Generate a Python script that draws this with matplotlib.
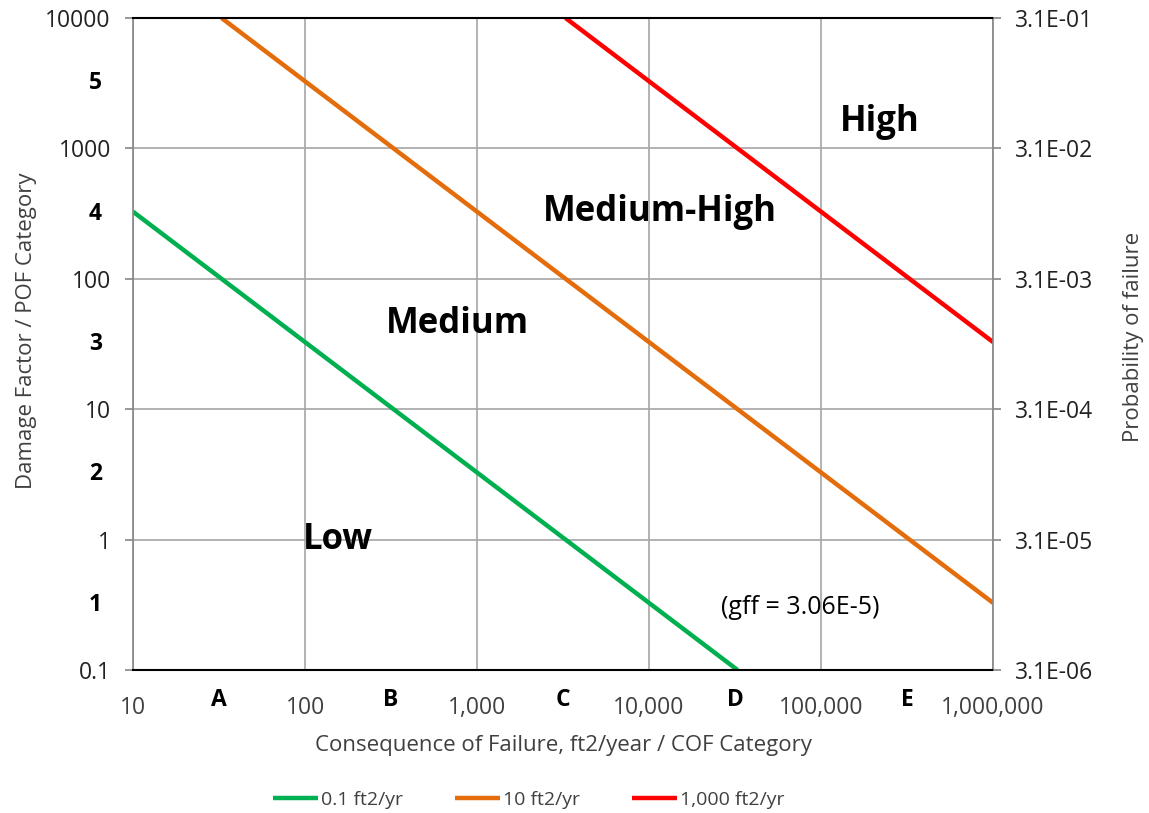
import matplotlib
matplotlib.use("Agg")
import matplotlib.pyplot as plt
from matplotlib.ticker import FixedLocator, FixedFormatter, NullLocator

plt.rcParams['font.family'] = ['Open Sans', 'DejaVu Sans']

# iso-risk lines (end points), gff = 3.06E-5
green_x = [10, 32680]
green_y = [326.8, 0.1]
orange_x = [32.68, 1000000]
orange_y = [10000, 0.3268]
red_x = [3268, 1000000]
red_y = [10000, 32.68]
series_labels = ['0.1 ft2/yr', '10 ft2/yr', '1,000 ft2/yr']

x_ticks = [10, 100, 1000, 10000, 100000, 1000000]
x_tick_labels = ['10', '100', '1,000', '10,000', '100,000', '1,000,000']
cof_pos = [31.6, 316, 3162, 31623, 316228]
cof_labels = ['A', 'B', 'C', 'D', 'E']

y_ticks = [0.1, 1, 10, 100, 1000, 10000]
y_tick_labels = ['0.1', '1', '10', '100', '1000', '10000']
pof_pos = [0.316, 3.16, 31.6, 316, 3162]
pof_labels = ['1', '2', '3', '4', '5']

gff = 3.06e-5
right_ticks = [y * gff for y in y_ticks]
right_labels = ['3.1E-06', '3.1E-05', '3.1E-04', '3.1E-03', '3.1E-02', '3.1E-01']

fig = plt.figure(figsize=(11.49, 8.13), dpi=100)
ax = fig.add_axes([0.1158, 0.1759, 0.7485, 0.802])
ax.set_xscale('log')
ax.set_yscale('log')
ax.set_xlim(10, 1000000)
ax.set_ylim(0.1, 10000)

ax.plot(green_x, green_y, color='#00B050', lw=3.2, label=series_labels[0], solid_capstyle='butt')
ax.plot(orange_x, orange_y, color='#E46C0A', lw=3.2, label=series_labels[1], solid_capstyle='butt')
ax.plot(red_x, red_y, color='#FF0000', lw=3.2, label=series_labels[2], solid_capstyle='butt')

ax.xaxis.set_major_locator(FixedLocator(x_ticks))
ax.xaxis.set_major_formatter(FixedFormatter(x_tick_labels))
ax.xaxis.set_minor_locator(NullLocator())
ax.yaxis.set_major_locator(FixedLocator(y_ticks))
ax.yaxis.set_major_formatter(FixedFormatter(y_tick_labels))
ax.yaxis.set_minor_locator(NullLocator())
ax.grid(True, color='#A6A6A6', lw=1.2)
ax.set_axisbelow(True)

ax.tick_params(axis='x', length=0, pad=19, labelsize=16.5, colors='#404040')
ax.tick_params(axis='y', length=6, width=1.2, pad=10, labelsize=16.5, color='#868686', labelcolor='#222222')
for side in ['left', 'right']:
    ax.spines[side].set_color('#868686')
    ax.spines[side].set_linewidth(1.2)
for side in ['top', 'bottom']:
    ax.spines[side].set_color('black')
    ax.spines[side].set_linewidth(1.5)

# category labels
for x, lab in zip(cof_pos, cof_labels):
    ax.text(x, -0.046, lab, transform=ax.get_xaxis_transform(), ha='center', va='center',
            fontsize=16.5, fontweight='bold', color='black')
for y, lab in zip(pof_pos, pof_labels):
    ax.text(-0.036, y, lab, transform=ax.get_yaxis_transform(), ha='right', va='center',
            fontsize=16.5, fontweight='bold', color='black')

ax.set_xlabel('Consequence of Failure, ft2/year / COF Category', fontsize=16, color='#404040')
ax.xaxis.set_label_coords(0.5, -0.1)
ax.set_ylabel('Damage Factor / POF Category', fontsize=16, color='#404040')
ax.yaxis.set_label_coords(-0.112, 0.521)

# region labels
ax.text(220000, 1580, 'High', fontsize=25, fontweight='bold', ha='center', va='center')
ax.text(11600, 325, 'Medium-High', fontsize=25, fontweight='bold', ha='center', va='center')
ax.text(765, 45, 'Medium', fontsize=25, fontweight='bold', ha='center', va='center')
ax.text(155, 1.0, 'Low', fontsize=25, fontweight='bold', ha='center', va='center')
ax.text(75500, 0.30, '(gff = 3.06E-5)', fontsize=18, ha='center', va='center')

# right axis: probability of failure
ax2 = ax.twinx()
ax2.set_yscale('log')
ax2.set_ylim(0.1 * gff, 10000 * gff)
ax2.yaxis.set_major_locator(FixedLocator(right_ticks))
ax2.yaxis.set_major_formatter(FixedFormatter(right_labels))
ax2.yaxis.set_minor_locator(NullLocator())
ax2.tick_params(axis='y', length=6, width=1.2, pad=10, labelsize=16.5, color='#868686', labelcolor='#222222')
for s in ax2.spines.values():
    s.set_visible(False)
ax2.set_ylabel('Probability of failure', fontsize=16, color='#404040')
ax2.yaxis.set_label_coords(1.151, 0.511)

ax.legend(loc='center', bbox_to_anchor=(0.46, -0.199), ncol=3, frameon=False,
          fontsize=14, handlelength=2.3, columnspacing=2.7, handletextpad=0.15,
          labelcolor='#404040')

fig.savefig('out.png', dpi=100)
